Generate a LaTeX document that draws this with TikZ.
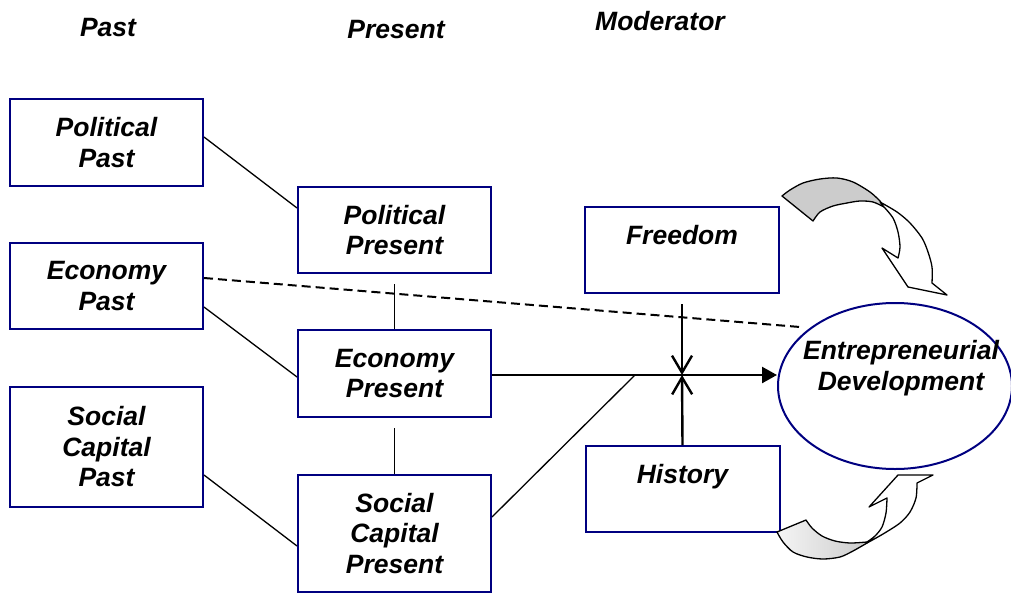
\documentclass[tikz,border=0pt]{standalone}
\usepackage{fontspec}
\setmainfont{Liberation Sans}
\usetikzlibrary{arrows.meta,shapes.geometric}
\definecolor{navy}{RGB}{0,0,128}
\newcommand{\dgfont}{\fontsize{26.5}{30.5}\selectfont\bfseries\itshape}
\begin{document}
\begin{tikzpicture}[x=1pt,y=-1pt,
  box/.style={draw=navy, line width=2pt, minimum width=193pt, inner sep=0pt, align=center, font=\dgfont},
  topbox/.style={draw=navy, line width=2pt, minimum width=194pt, inner sep=0pt, font=\dgfont, text height=37pt, text depth=49pt},
  hdr/.style={font=\dgfont, inner sep=0pt, anchor=base},
  conn/.style={line width=1.3pt},
  thick conn/.style={line width=2.4pt},
  barb/.style={-{Straight Barb[length=17pt,width=20pt]}},
  ribbon/.style={line width=1.3pt, line join=round}]
\useasboundingbox (0,0) rectangle (1011,594);
% headers
\node[hdr] (hpast) at (108,37) {Past};
\node[hdr] (hpres) at (396,38) {Present};
\node[hdr] (hmod) at (660,31) {Moderator};
% past column
\node[box, minimum height=87pt] (pp) at (106.5,142.5) {Political\\Past};
\node[box, minimum height=86pt] (ep) at (106.5,286) {Economy\\Past};
\node[box, minimum height=120pt] (sp) at (106.5,447) {Social\\Capital\\Past};
% present column
\node[box, minimum height=86pt] (prp) at (394.5,230) {Political\\Present};
\node[box, minimum height=87pt] (epr) at (394.5,373.5) {Economy\\Present};
\node[box, minimum height=117pt] (scpr) at (394.5,533.5) {Social\\Capital\\Present};
% moderators
\node[topbox] (fr) at (682,250) {Freedom};
\node[topbox] (hi) at (682.5,489) {History};
% outcome
\node[draw=navy, line width=2pt, ellipse, minimum width=234pt, minimum height=166pt, inner sep=0pt,
  label={[font=\dgfont, align=center, inner sep=0pt, xshift=6pt, yshift=18pt]center:Entrepreneurial\\Development}] (ed) at (895,386) {};
% coordinates
\coordinate (k) at (635,375);
\coordinate (x) at (682,375);
\coordinate (dend) at (800,327);
% connectors
\draw[conn] ([yshift=5.5pt]pp.east) -- ([yshift=22pt]prp.west);
\draw[conn] ([yshift=-21pt]ep.east) -- ([yshift=-3.5pt]epr.west);
\draw[conn] ([yshift=-28pt]sp.east) -- ([yshift=-12.5pt]scpr.west);
\draw[conn] ([yshift=-10pt]prp.south) -- (epr.north);
\draw[conn] ([yshift=-10pt]epr.south) -- (scpr.north);
\draw[line width=2pt, dash pattern=on 9pt off 5pt] ([yshift=8pt]ep.east) -- (dend);
\draw[conn] ([yshift=16.5pt]scpr.east) -- (k);
\draw[thick conn, -{Triangle[length=15pt,width=16pt]}] ([yshift=-1.5pt]epr.east) -- (x -| ed.west);
\draw[thick conn, barb] ([yshift=-10pt]fr.south) -- (x);
\draw[thick conn, barb] (hi.north) -- (x);
% top curved arrow
\draw[ribbon, fill=gray!40] plot[smooth] coordinates {(782,196) (790,190) (803,183) (820,179) (837,178) (853,182) (870,192) (880,201)}
  -- plot[smooth] coordinates {(884,207) (873,202) (860,201) (847,203) (833,206) (820,212) (813,221)} -- cycle;
\draw[ribbon, fill=white] plot[smooth] coordinates {(880,202) (897,212) (910,223) (922,238) (928,252) (932,267) (932,283)}
  -- (947,295) -- (908,287) -- (882,248) -- (898,258)
  -- plot[smooth] coordinates {(898,258) (900,247) (898,232) (893,218) (884,207)} -- cycle;
% bottom curved arrow
\draw[ribbon, left color=gray!8, right color=gray!40] plot[smooth] coordinates {(777,532) (783,542) (793,552) (807,557) (823,559) (840,557) (853,551) (867,543)}
  -- plot[smooth] coordinates {(867,542) (850,543) (835,541) (822,536) (812,528) (806,520)} -- cycle;
\draw[ribbon, fill=white] plot[smooth] coordinates {(867,543) (883,534) (900,523) (910,512) (916,498) (917,483)}
  -- (933,475) -- (898,475) -- (869,507) -- (887,498)
  -- plot[smooth] coordinates {(887,498) (886,513) (882,527) (875,536) (867,542)} -- cycle;
\end{tikzpicture}
\end{document}
